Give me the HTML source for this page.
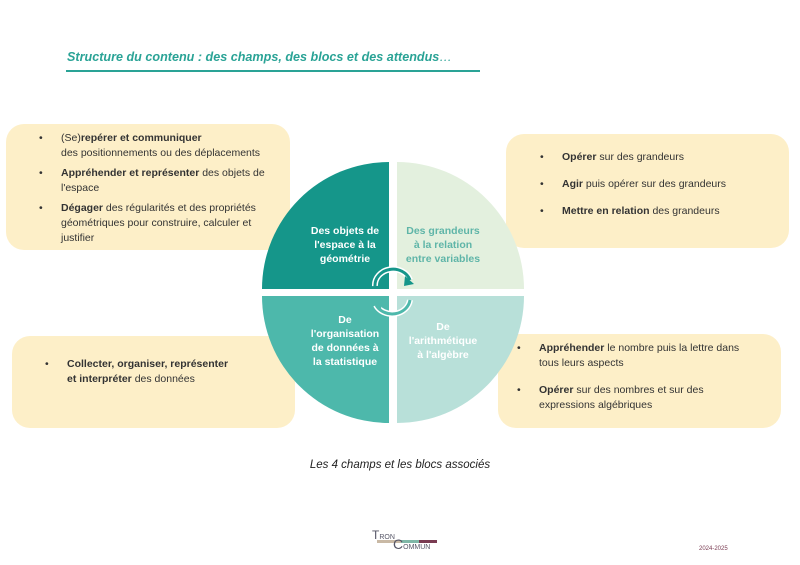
<!DOCTYPE html>
<html><head><meta charset="utf-8"><style>
body{margin:0;width:800px;height:565px;background:#fff;position:relative;font-family:"Liberation Sans",sans-serif;overflow:hidden}
.box{position:absolute;background:#fdefc8;border-radius:18px;font-size:10.5px;color:#333;line-height:15px}
.box ul{margin:0;padding:0;list-style:none}
.box li{position:relative;margin-bottom:5px}
.box li:before{content:"•";position:absolute;left:-22px}
.t{position:absolute;font-size:10.5px;text-align:center;line-height:14px;font-weight:bold;white-space:nowrap}
</style></head><body>
<div style="position:absolute;left:67px;top:50px;font-size:12.6px;font-style:italic;font-weight:bold;color:#2aa396">Structure du contenu : des champs, des blocs et des attendus<span style="font-weight:normal">…</span></div>
<div style="position:absolute;left:66px;top:70px;width:414px;height:2px;background:#2aa396"></div>

<div class="box" style="left:6px;top:124px;width:284px;height:126px"><ul style="padding:7px 10px 0 55px">
<li>(Se)<b>repérer et communiquer</b><br>des positionnements ou des déplacements</li>
<li><b>Appréhender et représenter</b> des objets de<br>l'espace</li>
<li><b>Dégager</b> des régularités et des propriétés<br>géométriques pour construire, calculer et<br>justifier</li></ul></div>

<div class="box" style="left:506px;top:134px;width:283px;height:114px"><ul style="padding:16px 10px 0 56px">
<li style="margin-bottom:12px"><b>Opérer</b> sur des grandeurs</li>
<li style="margin-bottom:12px"><b>Agir</b> puis opérer sur des grandeurs</li>
<li><b>Mettre en relation</b> des grandeurs</li></ul></div>

<div class="box" style="left:12px;top:336px;width:283px;height:92px"><ul style="padding:21px 10px 0 55px">
<li><b>Collecter, organiser, représenter<br>et interpréter</b> des données</li></ul></div>

<div class="box" style="left:498px;top:334px;width:283px;height:94px"><ul style="padding:7px 10px 0 41px">
<li style="margin-bottom:12px"><b>Appréhender</b> le nombre puis la lettre dans<br>tous leurs aspects</li>
<li><b>Opérer</b> sur des nombres et  sur des<br>expressions algébriques</li></ul></div>

<svg style="position:absolute;left:0;top:0" width="800" height="565">
<path d="M389,162 A127,127 0 0 0 262,289 L389,289Z" fill="#15968a"/>
<path d="M397,162 A127,127 0 0 1 524,289 L397,289Z" fill="#e3f0de"/>
<path d="M262,296 A127,127 0 0 0 389,423 L389,296Z" fill="#4db8ab"/>
<path d="M524,296 A127,127 0 0 1 397,423 L397,296Z" fill="#b8e0d9"/>
<path d="M375,286 A18,16 0 0 1 410,280" fill="none" stroke="#fff" stroke-width="6"/>
<path d="M375,286 A18,16 0 0 1 410,280" fill="none" stroke="#15968a" stroke-width="3"/>
<path d="M405,276 L414,284 L404,286Z" fill="#15968a"/>
<path d="M410,300 A18,16 0 0 1 376,305" fill="none" stroke="#fff" stroke-width="6"/>
<path d="M410,300 A18,16 0 0 1 376,305" fill="none" stroke="#4db8ab" stroke-width="3"/>
<path d="M381,310 L372,302 L382,299Z" fill="#4db8ab"/>
</svg>
<div class="t" style="left:300px;top:224px;width:90px;color:#fff">Des objets de<br>l'espace à la<br>géométrie</div>
<div class="t" style="left:397px;top:224px;width:92px;color:#5fb5a8">Des grandeurs<br>à la relation<br>entre variables</div>
<div class="t" style="left:300px;top:313px;width:90px;color:#fff">De<br>l'organisation<br>de données à<br>la statistique</div>
<div class="t" style="left:397px;top:320px;width:92px;color:#fff">De<br>l'arithmétique<br>à l'algèbre</div>

<div style="position:absolute;left:0;width:800px;top:459px;text-align:center;font-size:11.5px;font-style:italic;color:#222">Les 4 champs et les blocs associés</div>
<div style="position:absolute;left:372px;top:528px;font-size:12px;color:#556">T<span style="font-size:7px">RON</span></div>
<div style="position:absolute;left:377px;top:540px;width:60px;height:3px;background:linear-gradient(90deg,#c9b9a5 0 40%,#7fb7a7 40% 70%,#7a3b52 70%)"></div>
<div style="position:absolute;left:393px;top:536px;font-size:14px;color:#556">C<span style="font-size:7px">OMMUN</span></div>
<div style="position:absolute;left:699px;top:546px;font-size:6px;color:#7a3b52">2024-2025</div>
</body></html>
